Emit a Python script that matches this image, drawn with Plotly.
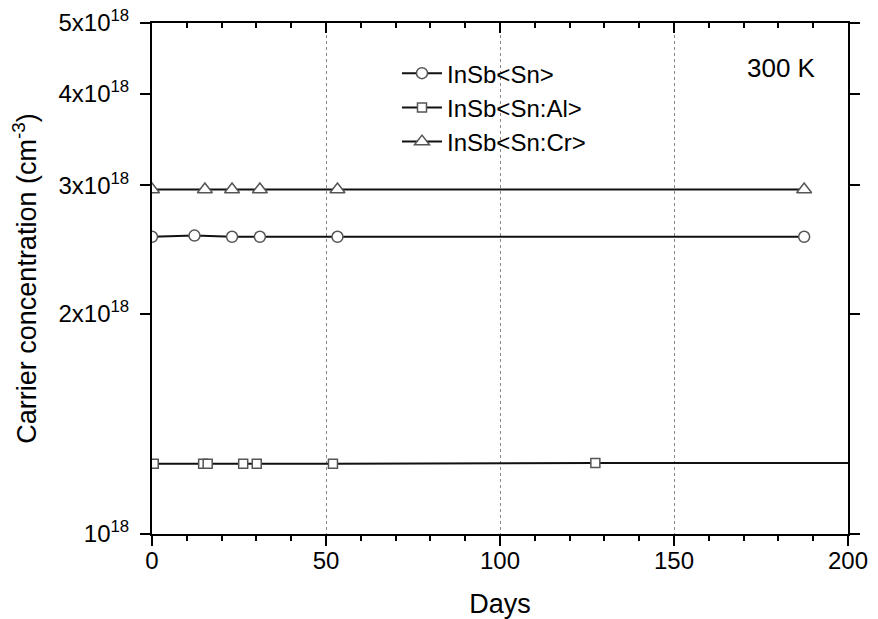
import math
import plotly.graph_objects as go

# ---- data ----
days_sn = [0, 12.2, 23, 31, 53.3, 187.4]
conc_sn = [2.55e18, 2.56e18, 2.55e18, 2.55e18, 2.55e18, 2.55e18]

days_al = [0.5, 14.7, 16, 26.2, 30.1, 52, 127.4, 215]
conc_al = [1.248e18, 1.248e18, 1.248e18, 1.248e18, 1.248e18, 1.248e18, 1.251e18, 1.251e18]

days_cr = [0, 15.2, 23, 31, 53.3, 187.4]
conc_cr = [2.96e18, 2.96e18, 2.96e18, 2.96e18, 2.96e18, 2.96e18]

names = ["InSb&lt;Sn&gt;", "InSb&lt;Sn:Al&gt;", "InSb&lt;Sn:Cr&gt;"]

y_tickvals = [1e18, 2e18, 3e18, 4e18, 5e18]
y_ticktext = ["10<sup>18</sup>", "2x10<sup>18</sup>", "3x10<sup>18</sup>",
              "4x10<sup>18</sup>", "5x10<sup>18</sup>"]
x_tickvals = [0, 50, 100, 150, 200]
y_min, y_max = 1e18, 5e18

FONT = "Liberation Sans, Arial, sans-serif"
line_style = dict(color="#111111", width=2)
mk_line = dict(color="#555555", width=1.5)

fig = go.Figure()
fig.add_trace(go.Scatter(x=days_sn, y=conc_sn, name=names[0], mode="lines+markers",
                         line=line_style, cliponaxis=True,
                         marker=dict(symbol="circle", size=11, color="white", line=mk_line)))
fig.add_trace(go.Scatter(x=days_al, y=conc_al, name=names[1], mode="lines+markers",
                         line=line_style, cliponaxis=True,
                         marker=dict(symbol="square", size=9, color="white", line=mk_line)))
fig.add_trace(go.Scatter(x=days_cr, y=conc_cr, name=names[2], mode="lines+markers",
                         line=line_style, cliponaxis=True,
                         marker=dict(symbol="triangle-up", size=13, color="white", line=mk_line)))

fig.update_layout(
    width=878, height=619,
    margin=dict(l=152, r=30, t=23, b=85, autoexpand=False),
    paper_bgcolor="white", plot_bgcolor="white",
    font=dict(family=FONT, size=24, color="black"),
    showlegend=True,
    legend=dict(x=0.352, y=0.945, xanchor="left", yanchor="top",
                bgcolor="rgba(0,0,0,0)", borderwidth=0,
                font=dict(family=FONT, size=24, color="black"),
                tracegroupgap=0, itemwidth=40),
    xaxis=dict(
        range=[0, 200], tickvals=x_tickvals, ticks="outside", ticklen=10, tickwidth=2,
        tickcolor="black", showline=True, linecolor="black", linewidth=2,
        mirror=False, zeroline=False, automargin=False,
        showgrid=True, gridcolor="#888888", griddash="dot", gridwidth=1,
        minor=dict(dtick=10, ticks="outside", ticklen=5, tickwidth=2, tickcolor="black",
                   showgrid=False),
        tickfont=dict(family=FONT, size=24), ticklabelstandoff=-6,
        ticklabeloverflow="allow",
        title=dict(text="Days", font=dict(family=FONT, size=27), standoff=30),
    ),
    xaxis2=dict(
        overlaying="x", side="top", range=[0, 200], tickvals=x_tickvals,
        ticks="inside", ticklen=10, tickwidth=2, tickcolor="black", automargin=False,
        showline=True, linecolor="black", linewidth=2, showticklabels=False,
        showgrid=False, zeroline=False,
        minor=dict(dtick=10, ticks="inside", ticklen=5, tickwidth=2, tickcolor="black"),
    ),
    yaxis=dict(
        type="log", range=[math.log10(y_min) - 1e-6, math.log10(y_max) + 1e-6],
        tickvals=y_tickvals, ticktext=y_ticktext,
        ticks="outside", ticklen=10, tickwidth=2, tickcolor="black",
        showline=True, linecolor="black", linewidth=2, mirror="ticks",
        showgrid=False, zeroline=False, automargin=False,
        tickfont=dict(family=FONT, size=24), ticklabelstandoff=6,
        ticklabeloverflow="allow",
        title=dict(text="Carrier concentration (cm<sup>-3</sup>)",
                   font=dict(family=FONT, size=27), standoff=14),
    ),
    annotations=[dict(text="300 K", xref="paper", yref="paper", x=0.905, y=0.912,
                      xanchor="center", yanchor="middle", showarrow=False,
                      font=dict(family=FONT, size=26, color="black"))],
)

# invisible helper trace so the top axis gets drawn
fig.add_trace(go.Scatter(x=[None], y=[None], xaxis="x2", showlegend=False, hoverinfo="skip"))

# remove the browser's default 8px body margin so the figure fills the window exactly
fig.write_html("out.html",
               config={"displayModeBar": False},
               post_script="document.body.style.margin='0';document.body.style.overflow='hidden';")
